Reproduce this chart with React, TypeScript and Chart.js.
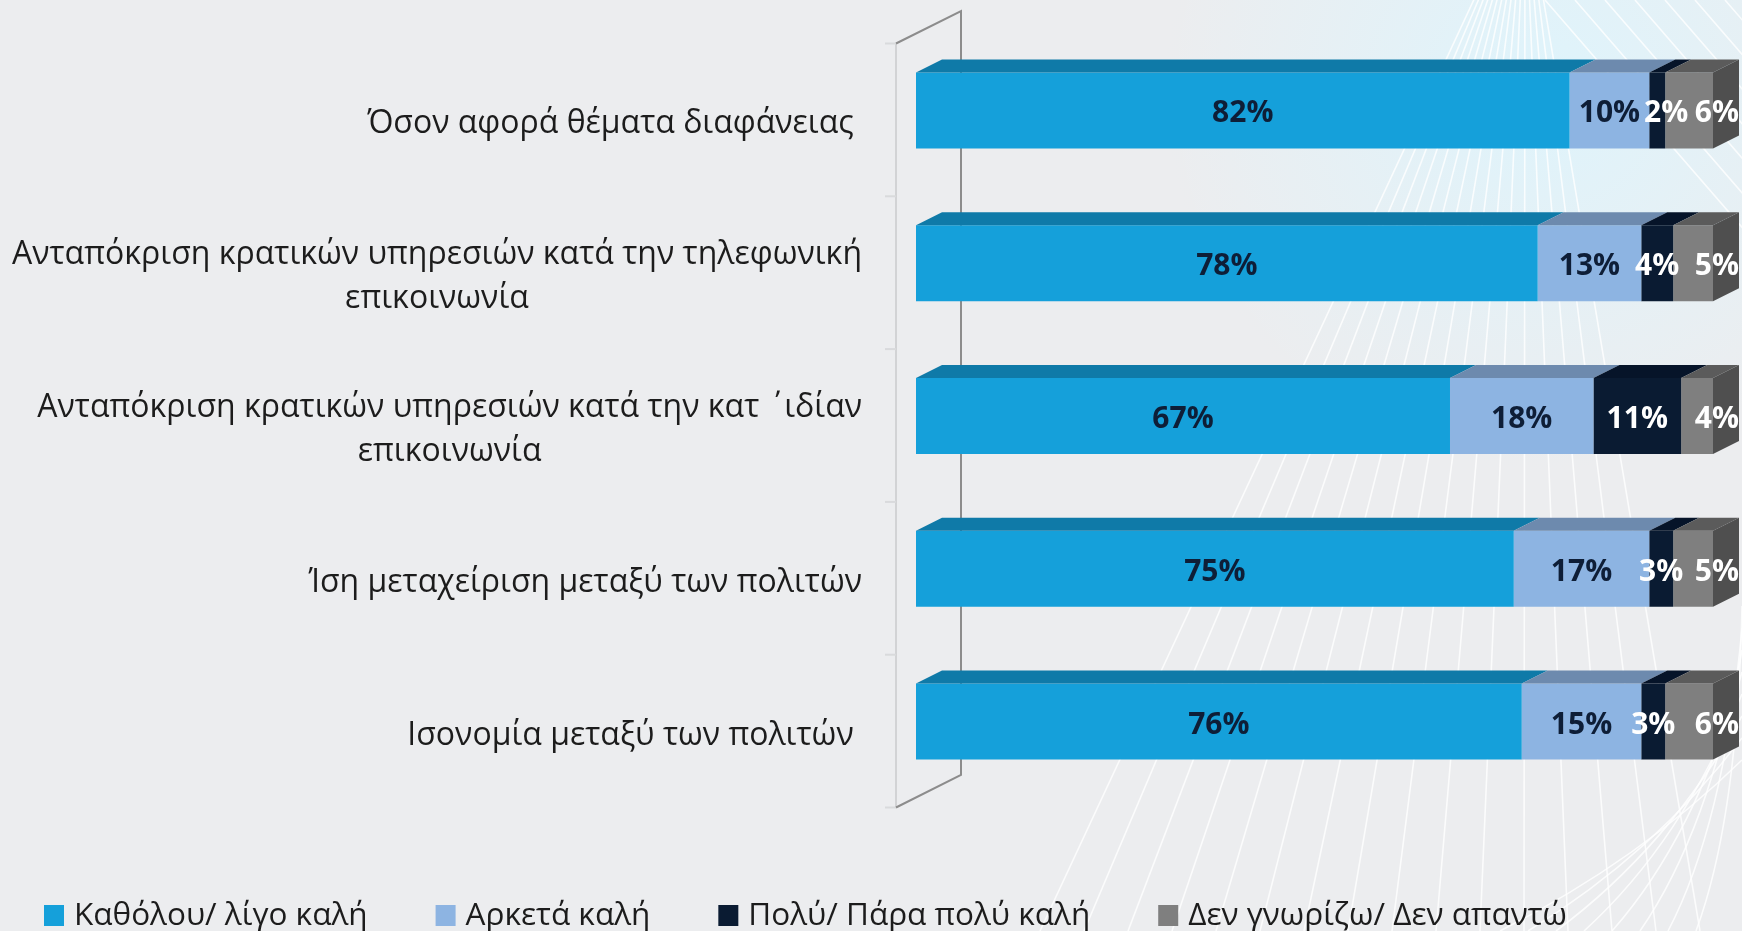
import React, { useEffect, useRef } from "react";
import { Chart, registerables } from "chart.js";

Chart.register(...registerables);

// ---------- data ----------
const categories: string[][] = [
  ["Όσον αφορά θέματα διαφάνειας "],
  ["Ανταπόκριση κρατικών υπηρεσιών κατά την τηλεφωνική", "επικοινωνία"],
  ["Ανταπόκριση κρατικών υπηρεσιών κατά την κατ ΄  ιδίαν", "επικοινωνία"],
  ["Ίση μεταχείριση μεταξύ των πολιτών"],
  ["Ισονομία μεταξύ των πολιτών "],
];
const seriesNames = [
  "Καθόλου/ λίγο καλή",
  "Αρκετά καλή",
  "Πολύ/ Πάρα πολύ καλή",
  "Δεν γνωρίζω/ Δεν απαντώ",
];
const poorValues = [82, 78, 67, 75, 76];
const fairValues = [10, 13, 18, 17, 15];
const goodValues = [2, 4, 11, 3, 3];
const dontKnowValues = [6, 5, 4, 5, 6];

// ---------- styles ----------
const BG = "#ECEDEF";
const FRONT_COLORS = ["#15A0DA", "#8DB4E2", "#0A1B32", "#7F7F7F"];
const TOP_COLORS = ["#0F7AA8", "#6D8AAE", "#061429", "#5B5B5B"];
const SIDE_COLOR = "#4F4F4F";
const VALUE_COLORS = ["#0E1E37", "#0E1E37", "#FFFFFF", "#FFFFFF"];
const BAR_DX = 26;
const BAR_DY = 13;
const WALL_FRONT_DX = -20;
const WALL_FRONT_DY = 9.5;
const WALL_BACK_DX = 45;
const WALL_BACK_DY = -23;
const FONT = '"Open Sans", "DejaVu Sans", sans-serif';

function drawDecoration(ctx: CanvasRenderingContext2D, width: number, height: number) {
  ctx.save();
  const g = ctx.createRadialGradient(1545, 90, 10, 1545, 90, 380);
  g.addColorStop(0, "rgba(222,244,252,0.95)");
  g.addColorStop(1, "rgba(222,244,252,0)");
  ctx.fillStyle = g;
  ctx.fillRect(1100, 0, width - 1100, height);
  ctx.strokeStyle = "rgba(255,255,255,0.8)";
  ctx.lineWidth = 1.6;
  // fan converging above the top edge
  const cx = 1525;
  const cy = -110;
  for (let bx = 1040; bx <= 1700; bx += 44) {
    ctx.beginPath();
    ctx.moveTo(cx, cy);
    ctx.lineTo(bx, height);
    ctx.stroke();
  }
  // parallel strokes in the upper-right corner
  for (let sx = 1545; sx <= 1760; sx += 30) {
    ctx.beginPath();
    ctx.moveTo(sx, 0);
    ctx.lineTo(sx + 260, 300);
    ctx.stroke();
  }
  // curved strokes in the lower-right corner
  for (let k = 0; k < 8; k++) {
    ctx.beginPath();
    ctx.moveTo(1500 + k * 28, height);
    ctx.quadraticCurveTo(1640 + k * 14, 860 - k * 6, width, 760 - k * 22);
    ctx.stroke();
  }
  ctx.restore();
}

const threeDPlugin = {
  id: "threeD",
  beforeDraw(chart: any) {
    const { ctx, chartArea, width, height } = chart;
    ctx.save();
    ctx.fillStyle = BG;
    ctx.fillRect(0, 0, width, height);
    ctx.restore();
    drawDecoration(ctx, width, height);

    // 3D wall (category axis)
    const yScale = chart.scales.y;
    const l = chartArea.left;
    const t = chartArea.top;
    const b = chartArea.bottom;
    const fx = l + WALL_FRONT_DX;
    const bx2 = l + WALL_BACK_DX;
    ctx.save();
    ctx.lineWidth = 2;
    ctx.strokeStyle = "#D2D3D5";
    ctx.beginPath();
    ctx.moveTo(fx, t + WALL_FRONT_DY);
    ctx.lineTo(fx, b + WALL_FRONT_DY);
    ctx.stroke();
    const n = yScale.getLabels().length;
    const step = (b - t) / n;
    ctx.strokeStyle = "#D9DADC";
    for (let k = 0; k <= n; k++) {
      const yy = t + WALL_FRONT_DY + k * step;
      ctx.beginPath();
      ctx.moveTo(fx - 11, yy);
      ctx.lineTo(fx, yy);
      ctx.stroke();
    }
    ctx.strokeStyle = "#8C8C8C";
    ctx.beginPath();
    ctx.moveTo(fx, t + WALL_FRONT_DY);
    ctx.lineTo(bx2, t + WALL_BACK_DY);
    ctx.lineTo(bx2, b + WALL_BACK_DY);
    ctx.lineTo(fx, b + WALL_FRONT_DY);
    ctx.stroke();
    ctx.restore();
  },
  afterDatasetsDraw(chart: any) {
    const { ctx } = chart;
    const datasets = chart.data.datasets;
    const nCat = chart.data.labels.length;
    ctx.save();
    for (let i = 0; i < nCat; i++) {
      let lastEl: any = null;
      datasets.forEach((ds: any, d: number) => {
        const el = chart.getDatasetMeta(d).data[i];
        const { x, base, y, height } = el.getProps(["x", "base", "y", "height"], true);
        const top = y - height / 2;
        ctx.fillStyle = TOP_COLORS[d];
        ctx.beginPath();
        ctx.moveTo(base, top);
        ctx.lineTo(x, top);
        ctx.lineTo(x + BAR_DX, top - BAR_DY);
        ctx.lineTo(base + BAR_DX, top - BAR_DY);
        ctx.closePath();
        ctx.fill();
        lastEl = { x, y, height };
      });
      if (lastEl) {
        const top = lastEl.y - lastEl.height / 2;
        const bot = lastEl.y + lastEl.height / 2;
        ctx.fillStyle = SIDE_COLOR;
        ctx.beginPath();
        ctx.moveTo(lastEl.x, top);
        ctx.lineTo(lastEl.x + BAR_DX, top - BAR_DY);
        ctx.lineTo(lastEl.x + BAR_DX, bot - BAR_DY);
        ctx.lineTo(lastEl.x, bot);
        ctx.closePath();
        ctx.fill();
      }
    }
    // value labels
    ctx.font = `bold 30px ${FONT}`;
    ctx.textBaseline = "alphabetic";
    ctx.textAlign = "left";
    for (let i = 0; i < nCat; i++) {
      const items: any[] = [];
      datasets.forEach((ds: any, d: number) => {
        const el = chart.getDatasetMeta(d).data[i];
        const { x, base, y } = el.getProps(["x", "base", "y"], true);
        const text = `${ds.data[i]}%`;
        const w = ctx.measureText(text).width;
        let left = (x + base) / 2 - w / 2;
        if (d === datasets.length - 1) left = x + BAR_DX - w;
        items.push({ text, w, left, y, d });
      });
      for (let k = 1; k < items.length - 1; k++) {
        const prevRight = items[k - 1].left + items[k - 1].w;
        if (items[k].left < prevRight + 4) items[k].left = prevRight + 4;
      }
      items.forEach((it) => {
        ctx.fillStyle = VALUE_COLORS[it.d];
        ctx.fillText(it.text, it.left, it.y + 12);
      });
    }
    ctx.restore();
  },
  afterDraw(chart: any) {
    const { ctx, chartArea } = chart;
    const yScale = chart.scales.y;
    const labels = chart.data.labels;
    ctx.save();
    // category labels: block right-aligned, lines centered inside the block
    ctx.font = `32px ${FONT}`;
    ctx.fillStyle = "#1C1C1C";
    ctx.textAlign = "center";
    ctx.textBaseline = "alphabetic";
    const blockRight = chartArea.left - 54;
    labels.forEach((lab: string[], i: number) => {
      const lines = Array.isArray(lab) ? lab : [lab];
      const y = yScale.getPixelForValue(i);
      const bw = Math.max(...lines.map((s) => ctx.measureText(s).width));
      const cx = blockRight - bw / 2;
      lines.forEach((s, j) => {
        ctx.fillText(s, cx, y + 23 + (j - (lines.length - 1) / 2) * 44);
      });
    });
    // legend
    ctx.font = `31.5px ${FONT}`;
    ctx.textAlign = "left";
    let x = 44;
    const baseY = chart.height - 6;
    chart.data.datasets.forEach((ds: any) => {
      ctx.fillStyle = ds.backgroundColor;
      ctx.fillRect(x, baseY - 20, 20, 21);
      ctx.fillStyle = "#1C1C1C";
      ctx.fillText(ds.label, x + 30, baseY);
      x += 30 + ctx.measureText(ds.label).width + 68;
    });
    ctx.restore();
  },
};

export default function App() {
  const canvasRef = useRef<HTMLCanvasElement | null>(null);

  useEffect(() => {
    if (!canvasRef.current) return;
    const valueSets = [poorValues, fairValues, goodValues, dontKnowValues];
    const chart = new Chart(canvasRef.current, {
      type: "bar",
      data: {
        labels: categories,
        datasets: seriesNames.map((name, d) => ({
          label: name,
          data: valueSets[d],
          backgroundColor: FRONT_COLORS[d],
          borderWidth: 0,
          barPercentage: 1,
          categoryPercentage: 0.4975,
        })),
      },
      options: {
        indexAxis: "y",
        responsive: false,
        animation: false,
        layout: { padding: { left: 916, right: 29, top: 34, bottom: 133 } },
        scales: {
          x: { stacked: true, min: 0, max: 100, display: false },
          y: { stacked: true, display: false },
        },
        plugins: {
          legend: { display: false },
          tooltip: { enabled: false },
          title: { display: false },
        },
      },
      plugins: [threeDPlugin],
    });
    return () => chart.destroy();
  }, []);

  return (
    <div style={{ position: "absolute", left: 0, top: 0, width: 1742, height: 931, background: BG }}>
      <canvas ref={canvasRef} width={1742} height={931} style={{ width: 1742, height: 931, display: "block" }} />
    </div>
  );
}
